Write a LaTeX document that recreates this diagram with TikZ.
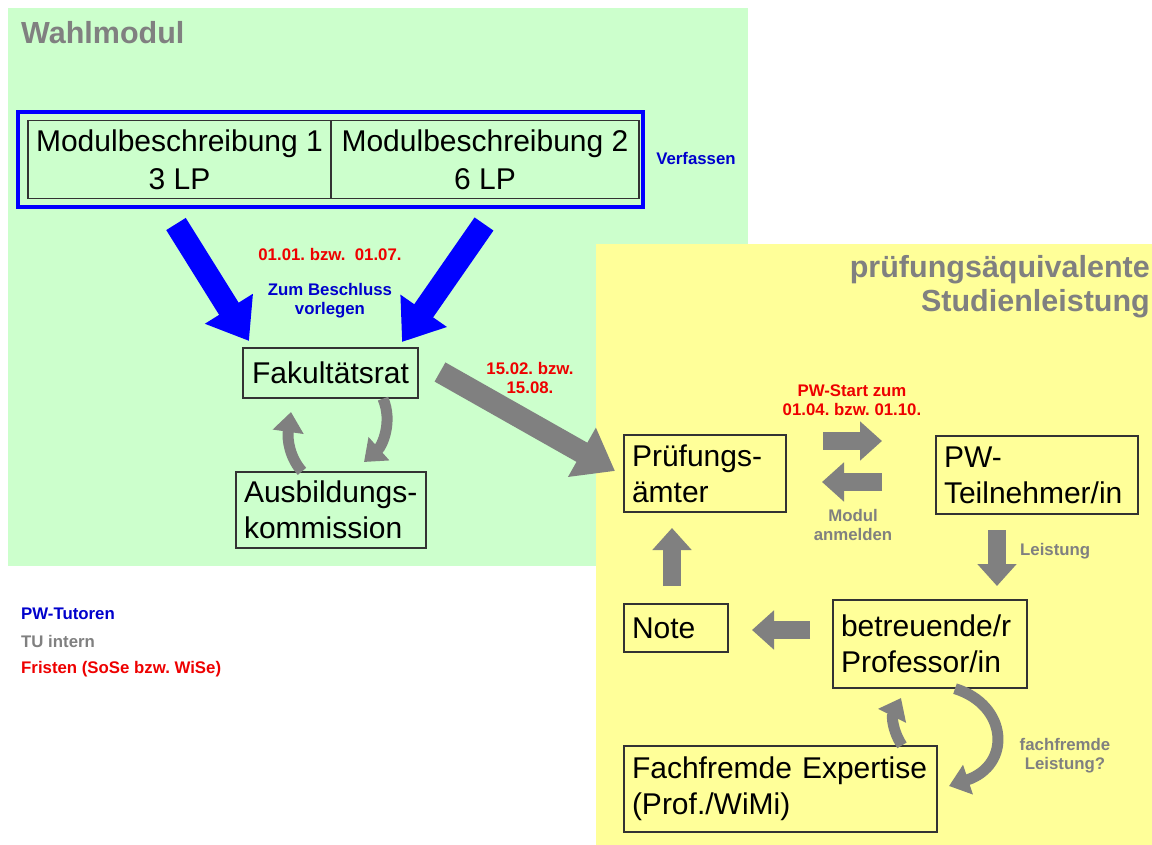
\documentclass[tikz,border=0pt]{standalone}
\usepackage{fontspec}
\setmainfont{Liberation Sans}
\usetikzlibrary{arrows.meta}
\definecolor{bggreen}{HTML}{CCFFCC}
\definecolor{bgyellow}{HTML}{FFFF99}
\definecolor{tgray}{HTML}{808080}
\definecolor{tblue}{HTML}{0000CC}
\definecolor{ablue}{HTML}{0000FF}
\definecolor{tred}{HTML}{EE0000}
\definecolor{boxline}{HTML}{333333}
\AtBeginDocument{\hyphenpenalty=10000 \exhyphenpenalty=10000 \frenchspacing}
\begin{document}
\begin{tikzpicture}[x=1pt,y=-1pt,
  box/.style={draw=boxline, line width=1.3pt, rectangle, inner xsep=8pt, inner ysep=0pt,
    font=\fontsize{30}{36}\selectfont, align=left},
  cbox/.style={draw=boxline, line width=1.3pt, rectangle, inner sep=0pt,
    font=\fontsize{30}{38}\selectfont, align=center},
  lbl/.style={font=\fontsize{16.8}{19}\selectfont\bfseries, align=center, inner sep=0pt},
  ttl/.style={font=\fontsize{30.5}{34}\selectfont\bfseries, text=tgray, inner sep=0pt},
  bigarrow/.style={line width=23pt, -{Triangle[length=38pt,width=54pt]}},
  midarrow/.style={draw=tgray, line width=18pt, -{Triangle[length=22pt,width=38pt]}},
  curarrow/.style={draw=tgray, line width=11pt, -{Triangle[length=20pt,width=30pt]}},
]
\useasboundingbox (0,0) rectangle (1152,845);
% backgrounds
\fill[bggreen] (8,8) rectangle (748,566);
\fill[bgyellow] (596,244) rectangle (1152,845);

% titles
\node[ttl, anchor=west] (t1) at (21,33) {Wahlmodul};
\node[ttl, anchor=east, align=right] (t2) at (1150,287) {prüfungsäquivalente\\Studienleistung};

% module descriptions
\node[draw=ablue, line width=3.5pt, minimum width=625pt, minimum height=95pt, inner sep=0pt] (frame) at (330.5,159.5) {};
\node[cbox, minimum width=303pt, minimum height=78pt] (mb1) at (179.5,159.5) {Modulbeschreibung 1\\3 LP};
\node[cbox, minimum width=308pt, minimum height=78pt] (mb2) at (485,159.5) {Modulbeschreibung 2\\6 LP};
\node[lbl, text=tblue] (verf) at (696,158) {Verfassen};

% main boxes
\node[cbox, minimum width=175pt, minimum height=50pt] (fak) at (330.5,373) {Fakultätsrat};
\node[box, text width=174pt, minimum height=76pt] (aus) at (331,510) {Ausbildungs-\\kommission};
\node[box, text width=146pt, minimum height=77pt] (pa) at (705,473.5) {Prüfungs-\\ämter};
\node[box, text width=186pt, minimum height=78pt] (pw) at (1037,475) {PW-\\Teilnehmer/in};
\node[box, text width=88pt, minimum height=48pt] (note) at (676,628) {Note};
\node[box, text width=178pt, minimum height=88pt] (prof) at (930,644) {betreuende/r\\Professor/in};
\node[box, text width=297pt, minimum height=86pt] (ff) at (780.5,789) {Fachfremde Expertise\\(Prof./WiMi)};

% labels
\node[lbl, text=tred] (d1) at (330,254) {01.01. bzw.\ \ 01.07.};
\node[lbl, text=tblue] (besch) at (330,301) {Zum Beschluss\\vorlegen};
\node[lbl, text=tred] (d2) at (530,378) {15.02. bzw.\\15.08.};
\node[lbl, text=tred] (d3) at (852,400) {PW-Start zum\\01.04. bzw. 01.10.};
\node[lbl, text=tgray] (anm) at (853,525) {Modul\\anmelden};
\node[lbl, text=tgray, anchor=west] (leist) at (1020,551) {Leistung};
\node[lbl, text=tgray] (ffl) at (1065,756) {fachfremde\\Leistung?};

% legend
\node[lbl, text=tblue, anchor=west] (lg1) at (21,614) {PW-Tutoren};
\node[lbl, text=tgray, anchor=west] (lg2) at (21,641) {TU intern};
\node[lbl, text=tred, anchor=west] (lg3) at (21,669) {Fristen (SoSe bzw. WiSe)};

% arrow end points
\coordinate (b1s) at (176,224);
\coordinate (b1e) at (249,341);
\coordinate (b2s) at (484,224);
\coordinate (b2e) at (402,342);
\coordinate (gs) at (440,372);
\coordinate (ge) at (615,471);
\coordinate (r1s) at (823,441);
\coordinate (r1e) at (882,441);
\coordinate (l1s) at (882,482);
\coordinate (l1e) at (822,482);
\coordinate (dns) at (997,530);
\coordinate (dne) at (997,586);
\coordinate (ups) at (672,586);
\coordinate (upe) at (672,528);
\coordinate (nls) at (810,630);
\coordinate (nle) at (752,630);

% straight block arrows
\draw[bigarrow, draw=ablue] (b1s) -- (b1e);
\draw[bigarrow, draw=ablue] (b2s) -- (b2e);
\draw[bigarrow, draw=tgray, line width=22pt] (gs) -- (ge);
\draw[midarrow] (r1s) -- (r1e);
\draw[midarrow] (l1s) -- (l1e);
\draw[midarrow] (dns) -- (dne);
\draw[midarrow] (ups) -- (upe);
\draw[midarrow] (nls) -- (nle);

% curved arrows
\draw[curarrow] (fak.south -| 383,0) .. controls (393,422) and (382,446) .. (364,462);
\draw[curarrow] (aus.north -| 302,0) .. controls (290,458) and (287,440) .. (291,412);
\draw[curarrow] (prof.south -| 955,0) .. controls (1008,705) and (1012,765) .. (949,786);
\draw[curarrow] (ff.north -| 902,0) .. controls (892,730) and (892,716) .. (901,698);
\end{tikzpicture}
\end{document}
